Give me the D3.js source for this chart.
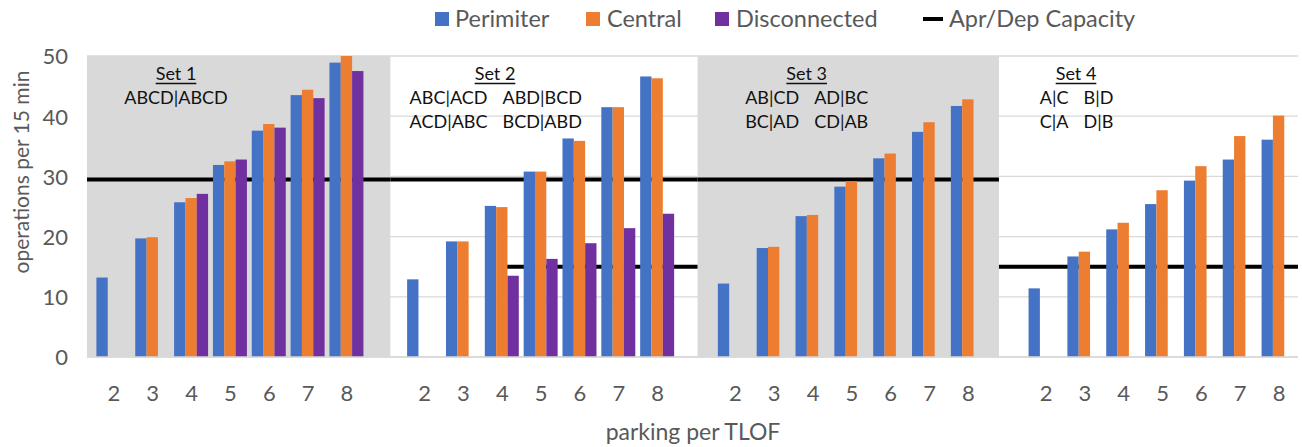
<!DOCTYPE html>
<html><head><meta charset="utf-8">
<script src="https://cdn.jsdelivr.net/npm/d3@7"></script>
<style>
html,body{margin:0;padding:0;background:#fff;}
svg{display:block;font-family:Lato,"Open Sans",sans-serif;}
</style></head>
<body><svg id="chart" width="1302" height="447"></svg>
<script>
// ---- data ----
const parking = [2, 3, 4, 5, 6, 7, 8];
const setNames = ["Set 1", "Set 2", "Set 3", "Set 4"];
const setConfigs = [
  [["ABCD|ABCD"]],
  [["ABC|ACD", "ABD|BCD"], ["ACD|ABC", "BCD|ABD"]],
  [["AB|CD", "AD|BC"], ["BC|AD", "CD|AB"]],
  [["A|C", "B|D"], ["C|A", "D|B"]]
];
const seriesNames = ["Perimiter", "Central", "Disconnected"];
const perimiter = [
  [13.2, 19.7, 25.7, 31.9, 37.6, 43.5, 48.9],
  [12.9, 19.2, 25.1, 30.8, 36.3, 41.5, 46.6],
  [12.2, 18.1, 23.4, 28.3, 33.0, 37.4, 41.7],
  [11.4, 16.7, 21.2, 25.4, 29.3, 32.8, 36.1]
];
const central = [
  [null, 19.9, 26.4, 32.5, 38.7, 44.4, 50.0],
  [null, 19.2, 24.9, 30.8, 35.9, 41.5, 46.3],
  [null, 18.3, 23.6, 29.2, 33.8, 39.0, 42.8],
  [null, 17.5, 22.3, 27.7, 31.7, 36.7, 40.1]
];
const disconnected = [
  [null, null, 27.1, 32.8, 38.1, 43.0, 47.5],
  [null, null, 13.5, 16.3, 18.9, 21.4, 23.8],
  [null, null, null, null, null, null, null],
  [null, null, null, null, null, null, null]
];
// Apr/Dep capacity: value per set, and the parking value where the segment starts (null = whole panel)
const capacity = [
  {set: 0, value: 29.5, fromParking: null},
  {set: 1, value: 29.5, fromParking: null},
  {set: 2, value: 29.5, fromParking: null},
  {set: 1, value: 15, fromParking: 4},
  {set: 3, value: 15, fromParking: null}
];
const yTicks = [0, 10, 20, 30, 40, 50];
const colors = {"Perimiter": "#4472C4", "Central": "#ED7D31", "Disconnected": "#7030A0"};

// ---- layout ----
const svg = d3.select("#chart");
const slotsPerSet = 8;
const panelEdges = [-0.68, 7.13, 15.04, 22.8, 30.5]; // in slot units
const x = d3.scaleLinear().domain([panelEdges[0], panelEdges[4]]).range([87, 1298]);
const y = d3.scaleLinear().domain([0, 50]).range([357, 56]);
const slotW = x(1) - x(0);
const inner = d3.scaleBand().domain(seriesNames).range([-slotW * 0.4375, slotW * 0.4375]).padding(0);
const slotOf = (s, i) => s * slotsPerSet + i;

// gridlines
svg.append("g").selectAll("line").data(yTicks).join("line")
  .attr("x1", x(panelEdges[0])).attr("x2", x(panelEdges[4]))
  .attr("y1", d => y(d)).attr("y2", d => y(d))
  .attr("stroke", "#d9d9d9").attr("stroke-width", 1.3);

// panel backgrounds (sets 1 and 3 shaded)
svg.append("g").selectAll("rect").data(setNames).join("rect")
  .attr("x", (d, i) => x(panelEdges[i]))
  .attr("width", (d, i) => x(panelEdges[i + 1]) - x(panelEdges[i]))
  .attr("y", y(50)).attr("height", y(0) - y(50))
  .attr("fill", (d, i) => i % 2 === 0 ? "#d9d9d9" : "none");

// capacity lines (behind bars)
svg.append("g").selectAll("line").data(capacity).join("line")
  .attr("x1", d => d.fromParking == null ? x(panelEdges[d.set]) : x(slotOf(d.set, parking.indexOf(d.fromParking))))
  .attr("x2", d => x(panelEdges[d.set + 1]))
  .attr("y1", d => y(d.value)).attr("y2", d => y(d.value))
  .attr("stroke", "#000").attr("stroke-width", 4);

// bars
const allSeries = [perimiter, central, disconnected];
const barData = [];
setNames.forEach((sn, s) => {
  parking.forEach((p, i) => {
    seriesNames.forEach((name, k) => {
      const v = allSeries[k][s][i];
      if (v != null) barData.push({s, i, name, v});
    });
  });
});
svg.append("g").selectAll("rect").data(barData).join("rect")
  .attr("x", d => x(slotOf(d.s, d.i)) + inner(d.name))
  .attr("width", inner.bandwidth())
  .attr("y", d => y(d.v))
  .attr("height", d => y(0) - y(d.v))
  .attr("fill", d => colors[d.name]);

// baseline
svg.append("line").attr("x1", x(panelEdges[0])).attr("x2", x(panelEdges[4]))
  .attr("y1", y(0)).attr("y2", y(0)).attr("stroke", "#d9d9d9").attr("stroke-width", 1.3);

// y axis labels
const yAxis = d3.axisLeft(y).tickValues(yTicks).tickSize(0).tickPadding(0);
const yg = svg.append("g").attr("transform", "translate(68,0)").call(yAxis);
yg.select(".domain").remove();
yg.selectAll("text").attr("fill", "#595959").attr("font-size", 22).attr("font-family", "Lato").attr("dy", "0.36em");

// x axis labels per set
setNames.forEach((sn, s) => {
  const xs = d3.scalePoint().domain(parking).range([x(slotOf(s, 0)), x(slotOf(s, 6))]);
  const xAxis = d3.axisBottom(xs).tickSize(0).tickPadding(0);
  const g = svg.append("g").attr("transform", `translate(0,${385})`).call(xAxis);
  g.select(".domain").remove();
  g.selectAll("text").attr("fill", "#595959").attr("font-size", 22).attr("font-family", "Lato").attr("dy", "0.71em");
});

// axis titles
svg.append("text").attr("x", 693).attr("y", 440).attr("text-anchor", "middle")
  .attr("fill", "#595959").attr("font-size", 23).text("parking per TLOF");
svg.append("text").attr("transform", "translate(29,172) rotate(-90)").attr("text-anchor", "middle")
  .attr("fill", "#595959").attr("font-size", 21).text("operations per 15 min");

// set annotations
const setCenters = [176, 495, 806.7, 1076];
setNames.forEach((sn, s) => {
  const cx = setCenters[s];
  const t = svg.append("text").attr("x", cx).attr("y", 80).attr("text-anchor", "middle")
    .attr("font-size", 18).attr("fill", "#111").text(sn);
  const w = t.node().getComputedTextLength();
  svg.append("line").attr("x1", cx - w / 2).attr("x2", cx + w / 2)
    .attr("y1", 83.5).attr("y2", 83.5).attr("stroke", "#111").attr("stroke-width", 1.6);
  setConfigs[s].forEach((row, r) => {
    const yy = 104 + r * 24;
    if (row.length === 1) {
      svg.append("text").attr("x", cx).attr("y", yy).attr("text-anchor", "middle")
        .attr("font-size", 18).attr("fill", "#111").text(row[0]);
    } else {
      svg.append("text").attr("x", cx - 7.5).attr("y", yy).attr("text-anchor", "end")
        .attr("font-size", 18).attr("fill", "#111").text(row[0]);
      svg.append("text").attr("x", cx + 7.5).attr("y", yy).attr("text-anchor", "start")
        .attr("font-size", 18).attr("fill", "#111").text(row[1]);
    }
  });
});

// legend
const legend = svg.append("g");
const legItems = [
  {name: "Perimiter", sx: 435, tx: 455},
  {name: "Central", sx: 586, tx: 607},
  {name: "Disconnected", sx: 715, tx: 736}
];
legItems.forEach(d => {
  legend.append("rect").attr("x", d.sx).attr("y", 12).attr("width", 14).attr("height", 14).attr("fill", colors[d.name]);
  legend.append("text").attr("x", d.tx).attr("y", 27).attr("font-size", 23.5).attr("fill", "#595959").text(d.name);
});
legend.append("line").attr("x1", 923).attr("x2", 943).attr("y1", 19).attr("y2", 19).attr("stroke", "#000").attr("stroke-width", 4);
legend.append("text").attr("x", 949).attr("y", 27).attr("font-size", 23.5).attr("fill", "#595959").text("Apr/Dep Capacity");
</script></body></html>
